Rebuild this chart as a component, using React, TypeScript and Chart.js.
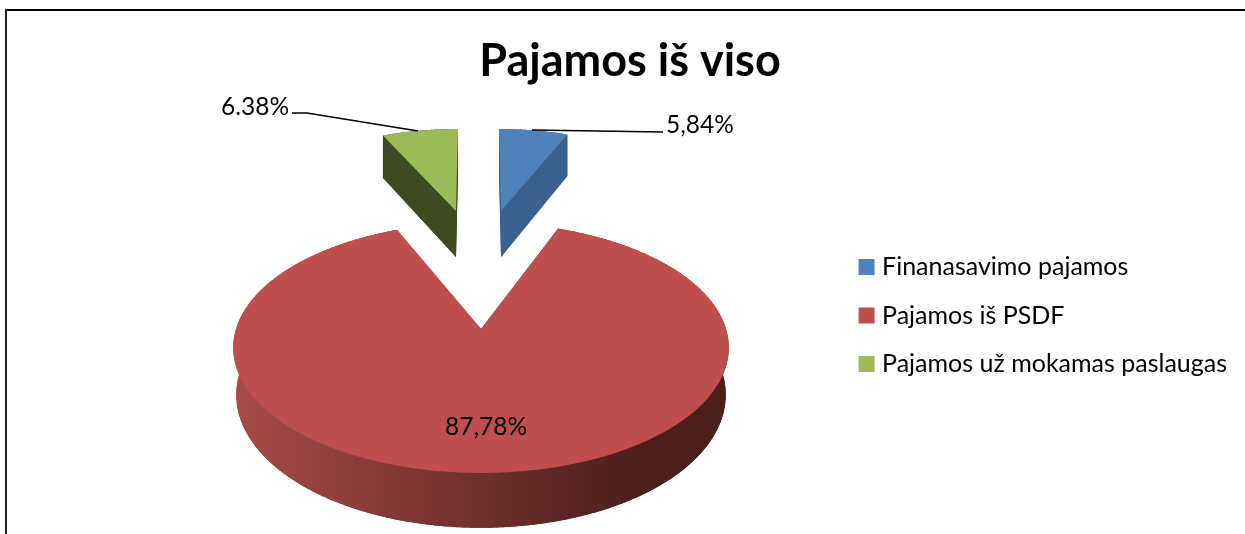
import React, { useEffect, useRef } from "react";
import { Chart, registerables } from "chart.js";

Chart.register(...registerables);

const categories = ["Finanasavimo pajamos", "Pajamos iš PSDF", "Pajamos už mokamas paslaugas"];
const shares = [5.84, 87.78, 6.38];
const shareLabels = ["5,84%", "87,78%", "6.38%"];
const topColors = ["#4F81BD", "#BE4F4C", "#9BBB59"];
const chartTitle = "Pajamos iš viso";

const FONT = "Lato, 'Open Sans', sans-serif";
const k = 0.149;

// slice projection: full pie uses perspective, exploded slices use simple local mapping
const pieTop = (u: number, v: number): [number, number] => {
  const w = 1 - k * v;
  return [481 + (245 * u) / w, 329 + (122.5 * v) / w];
};
const pieBottom = (u: number, v: number): [number, number] => {
  const w = 1 - k * v;
  return [481 + (242 * u) / w, 375 + (130 * v) / w];
};
const blueTop = (u: number, v: number): [number, number] => [501 + 190 * u + 2 * v, 211 + 82 * v];
const blueBottom = (u: number, v: number): [number, number] => [501 + 190 * u + 2 * v, 257 + 86.7 * v];
const greenTop = (u: number, v: number): [number, number] => [456 + 192 * u - 2 * v, 211 + 82 * v];
const greenBottom = (u: number, v: number): [number, number] => [456 + 192 * u - 2 * v, 257 + 86 * v];

type Proj = (u: number, v: number) => [number, number];

function slicePath(ctx: CanvasRenderingContext2D, p: Proj, a0: number, a1: number) {
  const [ax, ay] = p(0, 0);
  ctx.beginPath();
  ctx.moveTo(ax, ay);
  const n = Math.max(8, Math.ceil((a1 - a0) / 0.01));
  for (let i = 0; i <= n; i++) {
    const a = a0 + ((a1 - a0) * i) / n;
    const [x, y] = p(Math.cos(a), Math.sin(a));
    ctx.lineTo(x, y);
  }
  ctx.closePath();
}

function prism(
  ctx: CanvasRenderingContext2D,
  top: Proj,
  bottom: Proj,
  a0: number,
  a1: number,
  sideFill: string | CanvasGradient,
  topFill: string
) {
  ctx.fillStyle = sideFill;
  slicePath(ctx, bottom, a0, a1);
  ctx.fill();
  const n = Math.ceil((a1 - a0) / 0.01);
  ctx.beginPath();
  for (let i = 0; i <= n; i++) {
    const a = a0 + ((a1 - a0) * i) / n;
    const [x, y] = top(Math.cos(a), Math.sin(a));
    if (i === 0) ctx.moveTo(x, y);
    else ctx.lineTo(x, y);
  }
  for (let i = n; i >= 0; i--) {
    const a = a0 + ((a1 - a0) * i) / n;
    const [x, y] = bottom(Math.cos(a), Math.sin(a));
    ctx.lineTo(x, y);
  }
  ctx.closePath();
  ctx.fill();
  // cut faces from the apex to both arc ends
  for (const a of [a0, a1]) {
    const t0 = top(0, 0);
    const b0 = bottom(0, 0);
    const t1 = top(Math.cos(a), Math.sin(a));
    const b1 = bottom(Math.cos(a), Math.sin(a));
    ctx.beginPath();
    ctx.moveTo(t0[0], t0[1]);
    ctx.lineTo(t1[0], t1[1]);
    ctx.lineTo(b1[0], b1[1]);
    ctx.lineTo(b0[0], b0[1]);
    ctx.closePath();
    ctx.fill();
  }
  ctx.fillStyle = topFill;
  slicePath(ctx, top, a0, a1);
  ctx.fill();
}

const pie3d = {
  id: "pie3d",
  beforeDraw(chart: any) {
    const { ctx, width, height } = chart;
    ctx.save();
    ctx.fillStyle = "#fff";
    ctx.fillRect(0, 0, width, height);
    ctx.fillStyle = "#000";
    ctx.fillRect(5, 9, width - 5, 2);
    ctx.fillStyle = "#222";
    ctx.fillRect(5, 9, 2, height - 9);
    ctx.restore();
  },
  beforeDatasetDraw(chart: any) {
    const ctx: CanvasRenderingContext2D = chart.ctx;
    const arcs = chart.getDatasetMeta(0).data;
    ctx.save();
    const grad = ctx.createLinearGradient(236, 0, 727, 0);
    grad.addColorStop(0, "#A84B47");
    grad.addColorStop(0.5, "#6F2F2D");
    grad.addColorStop(0.82, "#4C1E1C");
    grad.addColorStop(1, "#4C1E1C");
    prism(ctx, pieTop, pieBottom, arcs[1].startAngle, arcs[1].endAngle, grad, topColors[1]);
    prism(ctx, greenTop, greenBottom, arcs[2].startAngle, arcs[2].endAngle, "#3F4A20", topColors[2]);
    prism(ctx, blueTop, blueBottom, arcs[0].startAngle, arcs[0].endAngle, "#3A618E", topColors[0]);

    // value labels and leaders
    ctx.strokeStyle = "#000";
    ctx.lineWidth = 1.6;
    ctx.beginPath();
    ctx.moveTo(292, 113);
    ctx.lineTo(307, 113);
    ctx.lineTo(418, 131);
    ctx.moveTo(532, 130);
    ctx.lineTo(663, 132);
    ctx.stroke();
    ctx.fillStyle = "#000";
    ctx.font = `24.5px ${FONT}`;
    ctx.textAlign = "center";
    ctx.textBaseline = "middle";
    ctx.fillText(shareLabels[0], 700, 125);
    ctx.fillText(shareLabels[1], 486, 427);
    ctx.fillText(shareLabels[2], 255, 107);
    ctx.restore();
    return false;
  },
};

export default function App() {
  const ref = useRef<HTMLCanvasElement>(null);
  useEffect(() => {
    document.body.style.margin = "0";
    const chart = new Chart(ref.current!, {
      type: "pie",
      data: {
        labels: categories,
        datasets: [{ data: shares, backgroundColor: topColors, borderWidth: 0 }],
      },
      options: {
        responsive: false,
        animation: false,
        layout: { padding: { left: 23, right: 8, top: 0, bottom: 134 } },
        plugins: {
          tooltip: { enabled: false },
          title: {
            display: true,
            text: chartTitle,
            color: "#000",
            font: { family: FONT, size: 45, weight: "bold" },
            padding: { top: 34, bottom: 0 },
          },
          legend: {
            position: "right",
            align: "end",
            labels: {
              color: "#000",
              font: { family: FONT, size: 25 },
              boxWidth: 6,
              boxHeight: 6,
              padding: 23.5,
              generateLabels(chart: any) {
                const items = (Chart as any).overrides.pie.plugins.legend.labels.generateLabels(chart);
                return items.map((it: any) => ({ ...it, lineWidth: 10, strokeStyle: it.fillStyle }));
              },
            },
          },
        },
      },
      plugins: [pie3d],
    } as any);
    return () => chart.destroy();
  }, []);
  return <canvas ref={ref} width={1245} height={534} style={{ display: "block" }} />;
}
